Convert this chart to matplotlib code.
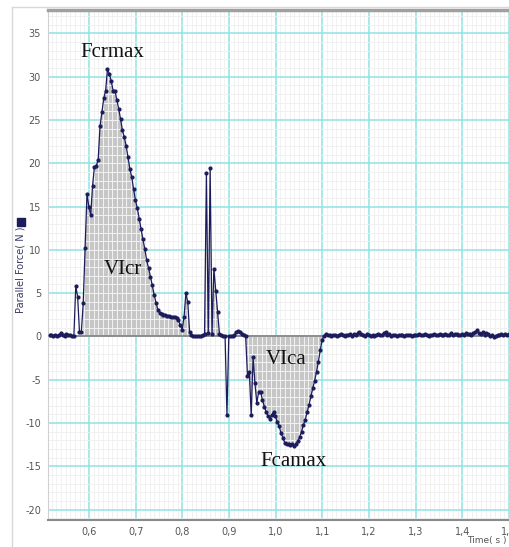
import numpy as np
import matplotlib.pyplot as plt
from matplotlib.path import Path
from matplotlib.patches import Rectangle
from matplotlib.lines import Line2D
from matplotlib.collections import LineCollection
from matplotlib.ticker import MultipleLocator, FuncFormatter

# sampling of the force sensor (250 Hz)
T0 = 0.5155
DT = 0.004

force = [
    # baseline before contact
    0.2, 0.2, 0.1, 0.2, 0.1, 0.2, 0.4, 0.2, 0.1, 0.3, 0.2, 0.2, 0.1, 0.1,
    # small pre-spike
    5.8, 4.6, 0.5, 0.5, 3.9,
    # rise to Fcrmax and fall
    10.2, 16.5, 15.0, 14.0, 17.4, 19.6, 19.7, 20.4, 24.3, 25.9,
    27.5, 28.4, 30.9, 30.3, 29.5, 28.4, 28.4, 27.3, 26.3, 25.1,
    23.8, 23.0, 22.0, 20.7, 19.3, 18.4, 17.0, 15.7, 14.8, 13.6,
    12.4, 11.2, 10.1, 8.8, 7.9, 6.9, 5.9, 4.8, 3.9, 3.1,
    2.7, 2.6, 2.5, 2.5, 2.4, 2.4, 2.3, 2.3, 2.2, 2.1,
    1.9, 1.3, 0.8, 2.2, 5.0, 4.0, 0.5,
    0.2, 0.1, 0.0, 0.1, 0.0, 0.1, 0.2, 0.3,
    # double spike
    18.9, 0.4, 19.5, 0.3, 7.8, 5.3, 2.8, 0.3,
    0.2, 0.1, 0.1, -9.1, 0.1, 0.0, 0.1, 0.2, 0.5, 0.6, 0.5, 0.3, 0.2, 0.1,
    # negative phase to Fcamax
    -4.6, -4.1, -9.1, -2.4, -5.4, -7.7, -6.4, -6.4, -7.3, -8.1,
    -8.7, -9.2, -9.5, -9.1, -8.7, -9.2, -9.9, -10.4, -11.2, -11.7,
    -12.3, -12.4, -12.4, -12.5, -12.4, -12.7, -12.4, -12.1, -11.6, -11.0,
    -10.2, -9.6, -8.7, -7.9, -6.9, -6.0, -5.1, -4.1, -2.9, -1.6,
    -0.4, 0.1,
    # baseline after release
    0.3, 0.2, 0.2, 0.1, 0.2, 0.2, 0.1, 0.2, 0.3, 0.2,
    0.1, 0.2, 0.2, 0.3, 0.1, 0.3, 0.2, 0.4, 0.5, 0.3,
    0.2, 0.1, 0.3, 0.2, 0.0, 0.2, 0.1, 0.2, 0.3, 0.2,
    0.2, 0.4, 0.5, 0.2, 0.3, 0.1, 0.2, 0.2, 0.1, 0.2,
    0.2, 0.2, 0.1, 0.2, 0.2, 0.2, 0.1, 0.2, 0.2, 0.2,
    0.3, 0.2, 0.2, 0.3, 0.2, 0.1, 0.2, 0.2, 0.3, 0.2,
    0.2, 0.3, 0.2, 0.2, 0.3, 0.2, 0.2, 0.4, 0.2, 0.3,
    0.3, 0.2, 0.2, 0.3, 0.2, 0.4, 0.3, 0.3, 0.2, 0.4,
    0.5, 0.7, 0.4, 0.3, 0.5, 0.2, 0.4, 0.3, 0.1, 0.2,
    -0.1, 0.1, 0.2, 0.2, 0.3, 0.2, 0.3, 0.2, 0.3,
]

# shaded impulse regions (sample index ranges)
shaded = [(18, 76), (83, 91), (105, 147)]

x_ticks = [0.6, 0.7, 0.8, 0.9, 1.0, 1.1, 1.2, 1.3, 1.4, 1.5]
y_ticks = [-20, -15, -10, -5, 0, 5, 10, 15, 20, 25, 30, 35]

labels = ['Fcrmax', 'VIcr', 'VIca', 'Fcamax']
label_pos = [(0.649, 32.8), (0.673, 7.7), (1.022, -2.7), (1.038, -14.5)]

force = np.array(force)
t = T0 + DT * np.arange(len(force))

W, H = 509, 547
fig = plt.figure(figsize=(W / 100, H / 100), dpi=100)
ax = fig.add_axes([48 / W, 1 - 520 / H, 1 - 48 / W, 510 / H])

ax.set_xlim(0.512, 1.5)
ax.set_ylim(-21.2, 37.7)

ax.set_xticks(x_ticks)
ax.set_yticks(y_ticks)
ax.xaxis.set_minor_locator(MultipleLocator(0.01))
ax.yaxis.set_minor_locator(MultipleLocator(1))
ax.xaxis.set_major_formatter(FuncFormatter(lambda v, p: f'{v:.1f}'.replace('.', ',')))
ax.yaxis.set_major_formatter(FuncFormatter(lambda v, p: f'{v:.0f}'))
ax.tick_params(which='both', length=0, labelsize=7, labelcolor='#555555')
ax.tick_params(axis='x', pad=5)
ax.tick_params(axis='y', pad=5)

ax.set_axisbelow(True)
ax.grid(which='minor', color='#efefef', lw=0.6)
ax.grid(which='major', color='#8fe3e3', lw=1.1)

# filled areas
mask = np.zeros(len(force), dtype=bool)
for a, b in shaded:
    mask[a:b + 1] = True
fill = ax.fill_between(t, force, 0, where=mask, color='#c6c6c6', lw=0, zorder=1)

# light grid visible through the shading
clip = Path.make_compound_path(*fill.get_paths())
gx = np.arange(0.52, 1.5, 0.01)
gy = np.arange(-21, 38, 1)
segs = [[(v, -25), (v, 40)] for v in gx] + [[(0.5, v), (1.6, v)] for v in gy]
lc = LineCollection(segs, colors='#f2f2f2', linewidths=0.7, zorder=1.5)
ax.add_collection(lc)
lc.set_clip_path(clip, ax.transData)

ax.axhline(0, color='#808080', lw=1.2, zorder=2)

ax.plot(t, force, color='#1c1c5c', lw=0.9, marker='o', ms=2.0, zorder=3)

for txt, (x, y) in zip(labels, label_pos):
    ax.text(x, y, txt, ha='center', va='center', fontsize=15,
            family='Liberation Serif', color='#111111', zorder=4)

ax.spines['right'].set_visible(False)
ax.spines['top'].set_color('#a0a0a0')
ax.spines['top'].set_linewidth(2.5)
ax.spines['bottom'].set_color('#8a8a8a')
ax.spines['bottom'].set_linewidth(1.5)
ax.spines['left'].set_color('#d0d0d0')
ax.spines['left'].set_linewidth(0.8)

# axis titles
fig.text(21 / W, 1 - 270 / H, 'Parallel Force( N )', rotation=90, ha='center', va='center',
         fontsize=7, color='#3a3a66')
fig.add_artist(Rectangle((17 / W, 1 - 226 / H), 8 / W, 8 / H, transform=fig.transFigure,
                         color='#1c1c5c'))
fig.text(507 / W, 1.5 / H, 'Time( s )', ha='right', va='bottom', fontsize=6.5, color='#555555')

# outer panel border
fig.add_artist(Line2D([12 / W, 12 / W], [0, 1 - 7 / H], transform=fig.transFigure,
                      color='#d8d8d8', lw=1))
fig.add_artist(Line2D([12 / W, 1], [1 - 7 / H, 1 - 7 / H], transform=fig.transFigure,
                      color='#d8d8d8', lw=1))

fig.savefig('out.png', dpi=100)
